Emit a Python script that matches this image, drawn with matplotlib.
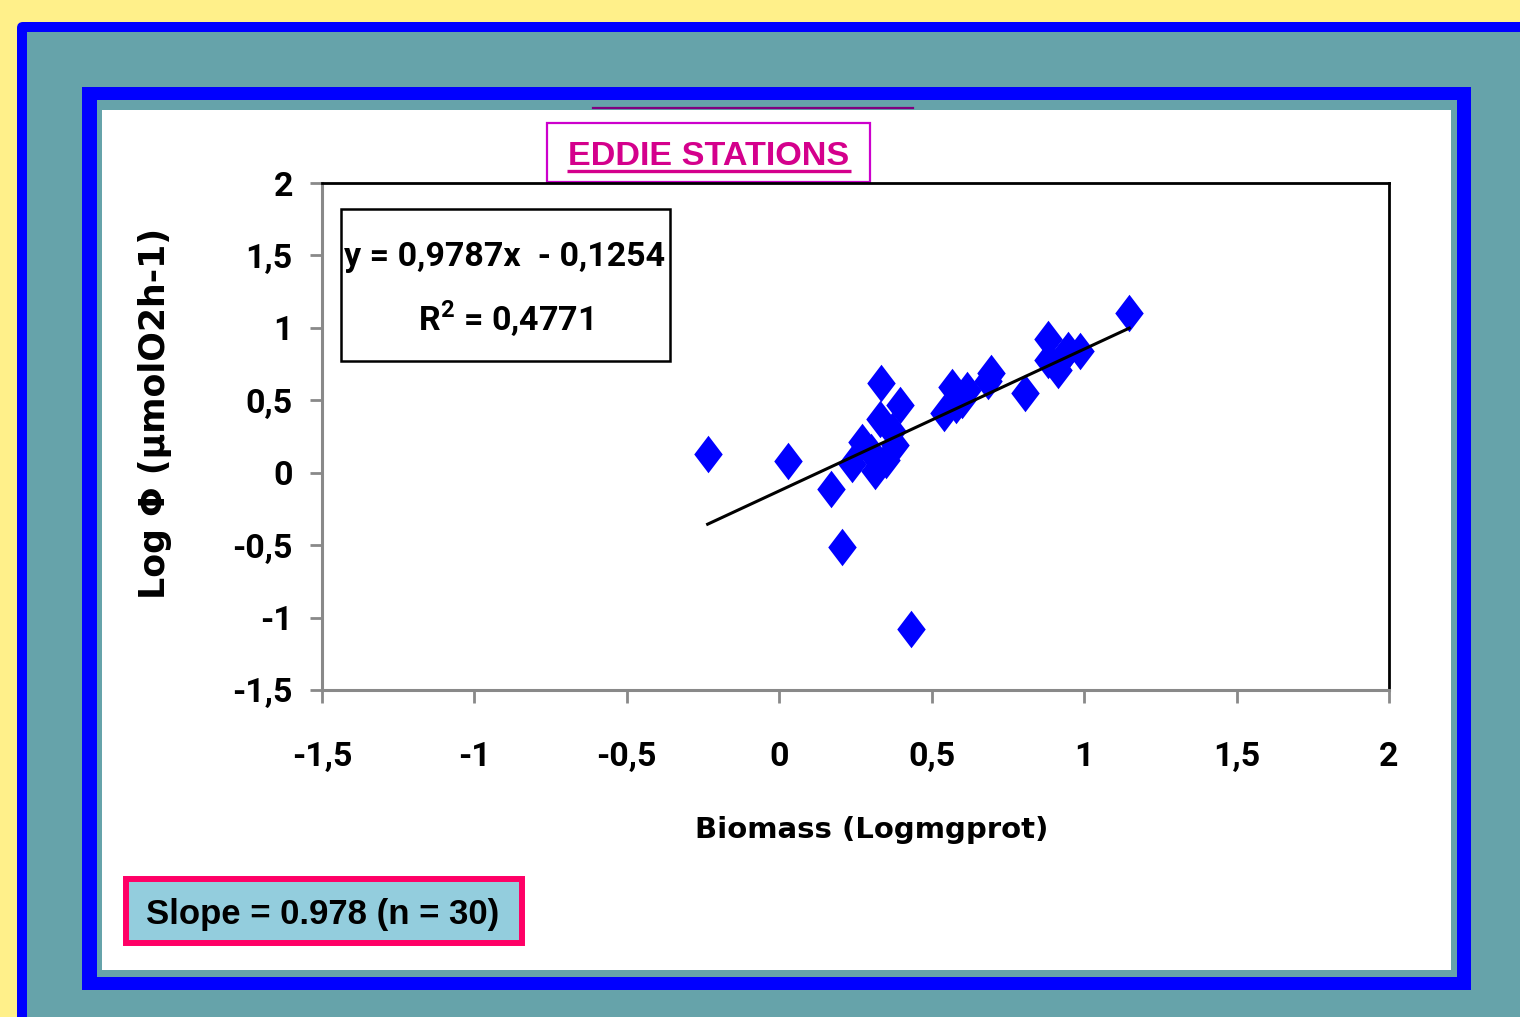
import matplotlib
matplotlib.use('Agg')
import matplotlib.pyplot as plt
from matplotlib.patches import Rectangle, FancyBboxPatch
from matplotlib.path import Path
import numpy as np

plt.rcParams['mathtext.fontset'] = 'custom'
plt.rcParams['mathtext.rm'] = 'Roboto:bold'
plt.rcParams['mathtext.bf'] = 'Roboto:bold'

# ---------------- data ----------------
x_biomass = [-0.235, 0.027, 0.17, 0.207, 0.431, 0.335, 0.396, 0.33, 0.27, 0.24,
             0.315, 0.35, 0.38, 0.37, 0.30, 0.54, 0.565, 0.58, 0.615, 0.60,
             0.696, 0.685, 0.806, 0.882, 0.88, 0.914, 0.947, 0.986, 1.148, 0.93]
y_logphi = [0.13, 0.08, -0.11, -0.51, -1.08, 0.62, 0.47, 0.37, 0.21, 0.06,
            0.01, 0.09, 0.19, 0.29, 0.14, 0.41, 0.59, 0.47, 0.57, 0.50,
            0.69, 0.63, 0.55, 0.92, 0.78, 0.71, 0.85, 0.84, 1.10, 0.80]
trend_slope = 0.9787
trend_intercept = -0.1254

x_ticks = [-1.5, -1, -0.5, 0, 0.5, 1, 1.5, 2]
x_tick_labels = ['-1,5', '-1', '-0,5', '0', '0,5', '1', '1,5', '2']
y_ticks = [-1.5, -1, -0.5, 0, 0.5, 1, 1.5, 2]
y_tick_labels = ['-1,5', '-1', '-0,5', '0', '0,5', '1', '1,5', '2']

title_text = 'EDDIE STATIONS'
eq_text = 'y = 0,9787x  - 0,1254'
r2_text = r'R$^{\mathbf{2}}$ = 0,4771'
slope_text = 'Slope = 0.978 (n = 30)'
x_label = 'Biomass (Logmgprot)'
y_label = 'Log Φ (µmolO2h-1)'

NARROW = ['Roboto', 'DejaVu Sans']
ARIAL = ['Liberation Sans', 'DejaVu Sans']
WIDE = ['DejaVu Sans']

# ---------------- figure & decoration ----------------
W, H = 1520, 1017
fig = plt.figure(figsize=(W / 100, H / 100), dpi=100)
fig.patch.set_facecolor('#FFF08A')

bg = fig.add_axes([0, 0, 1, 1], zorder=0)
bg.set_xlim(0, W)
bg.set_ylim(H, 0)
bg.axis('off')

BLUE = '#0000FF'
TEAL = '#66A3AA'

# outer frame (rounded top-left corner, runs off the page)
bg.add_patch(FancyBboxPatch((17, 22), 1600, 1100, boxstyle='round,pad=0,rounding_size=6',
                            facecolor=BLUE, edgecolor='none'))
bg.add_patch(Rectangle((27, 32), 1600, 1100, facecolor=TEAL, edgecolor='none'))
# inner frame
bg.add_patch(Rectangle((82, 87), 1471 - 82, 990 - 87, facecolor=BLUE, edgecolor='none'))
bg.add_patch(Rectangle((97, 100), 1457 - 97, 977 - 100, facecolor=TEAL, edgecolor='none'))
bg.add_patch(Rectangle((102, 110), 1451 - 102, 970 - 110, facecolor='white', edgecolor='none'))
bg.plot([593, 913], [108, 108], color='#800080', lw=1.6)

# title box
bg.add_patch(Rectangle((547, 123), 870 - 547, 182 - 123, facecolor='white',
                       edgecolor='#CC00CC', lw=1.6))
bg.text(709, 165, title_text, ha='center', va='baseline', fontsize=24.6,
        fontweight='bold', color='#D4008C', family=ARIAL)
bg.plot([567, 851], [170.5, 170.5], color='#D4008C', lw=2.4, solid_capstyle='butt')

# equation box
bg.add_patch(Rectangle((341, 209), 670 - 341, 361 - 209, facecolor='white',
                       edgecolor='black', lw=1.8))
bg.text(505, 266, eq_text, ha='center', va='baseline', fontsize=24.5,
        fontweight='bold', color='black', family=NARROW)
bg.text(505, 331, r2_text, ha='center', va='baseline', fontsize=24.5,
        fontweight='bold', color='black', family=NARROW)

# slope box
bg.add_patch(Rectangle((126, 879), 522 - 126, 943 - 879, facecolor='#93CDDD',
                       edgecolor='#FF0066', lw=4.3))
bg.text(146, 924, slope_text, ha='left', va='baseline', fontsize=25,
        fontweight='bold', color='black', family=ARIAL)

# ---------------- main axes ----------------
ax = fig.add_axes([322 / W, (H - 690) / H, 1067 / W, 507 / H], zorder=2)
ax.set_facecolor('none')
ax.set_xlim(-1.5, 2)
ax.set_ylim(-1.5, 2)

diamond = Path([(0, 1), (0.76, 0), (0, -1), (-0.76, 0), (0, 1)],
               [Path.MOVETO, Path.LINETO, Path.LINETO, Path.LINETO, Path.CLOSEPOLY])
ax.plot(x_biomass, y_logphi, linestyle='none', marker=diamond, markersize=27,
        color=BLUE, markeredgewidth=0, zorder=3)

xs = np.array([min(x_biomass), max(x_biomass)])
ax.plot(xs, trend_slope * xs + trend_intercept, color='black', lw=2.2, zorder=4)

for s in ['left', 'bottom']:
    ax.spines[s].set_color('#898989')
    ax.spines[s].set_linewidth(2.2)
for s in ['top', 'right']:
    ax.spines[s].set_color('black')
    ax.spines[s].set_linewidth(2.0)

ax.set_xticks(x_ticks)
ax.set_xticklabels(x_tick_labels)
ax.set_yticks(y_ticks)
ax.set_yticklabels(y_tick_labels)
ax.tick_params(axis='both', direction='out', length=9, width=2, color='#898989')
ax.tick_params(axis='y', pad=12)
ax.tick_params(axis='x', pad=28)
for lab in ax.get_xticklabels() + ax.get_yticklabels():
    lab.set_fontsize(24.5)
    lab.set_fontweight('bold')
    lab.set_family(NARROW)

ax.set_xlabel(x_label, fontsize=21, fontweight='bold', family=WIDE)
ax.xaxis.set_label_coords(0.5155, -0.276)
ax.xaxis.label.set_va('center')
ax.set_ylabel(y_label, fontsize=25, fontweight='bold', family=WIDE)
ax.yaxis.set_label_coords(-0.1565, 0.546)
ax.yaxis.label.set_va('center')

fig.savefig('out.png', dpi=100, facecolor=fig.get_facecolor())
